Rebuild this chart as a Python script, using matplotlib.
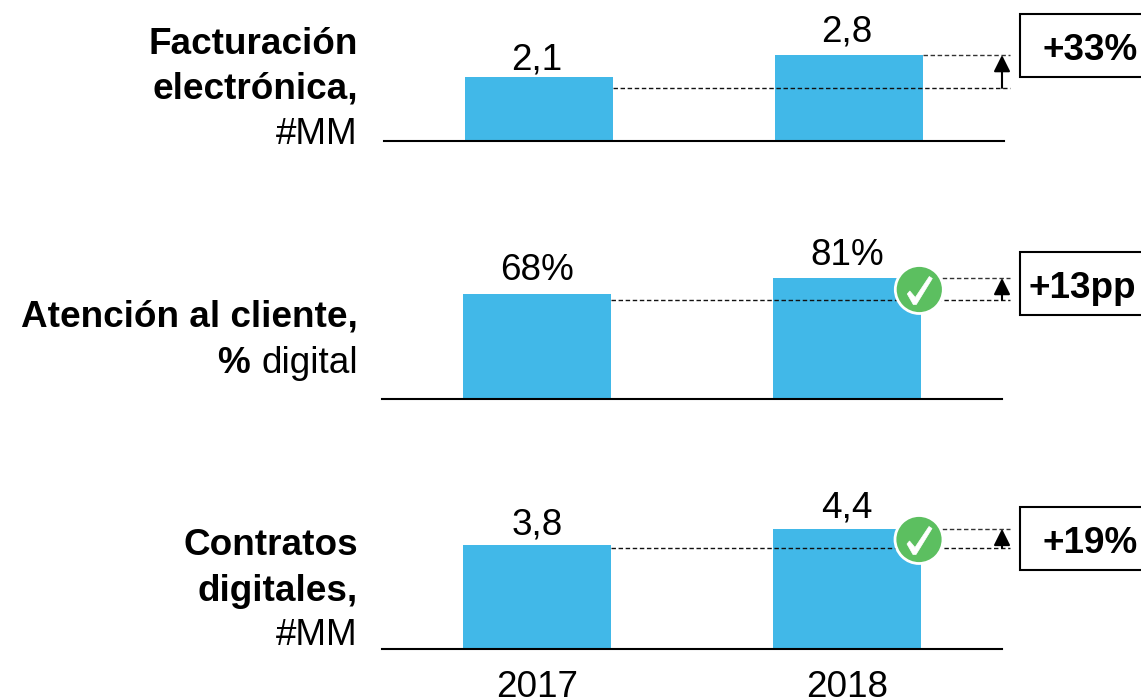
import matplotlib
matplotlib.use("Agg")
import matplotlib.pyplot as plt
from matplotlib.patches import Rectangle, Circle, Polygon

plt.rcParams['font.family'] = ['Liberation Sans', 'DejaVu Sans']

W, H = 1141, 700
FS = 26.6

years = ['2017', '2018']
fact_values = [2.1, 2.8]
aten_values = [70.3, 81]  # bar heights as drawn, the 2017 bar is taller than its 68% label
cont_values = [3.8, 4.4]
fact_labels = ['2,1', '2,8']
aten_labels = ['68%', '81%']
cont_labels = ['3,8', '4,4']
# level of the lower dashed guide, it does not sit on the 2017 bar
fact_guide = 1.73
aten_guide = 66.3
cont_guide = 3.7
changes = ['+33%', '+13pp', '+19%']

BLUE = '#41B8E8'
GREEN = '#5CBF60'

fig = plt.figure(figsize=(W / 100, H / 100), dpi=100)

# overlay in pixels for boxes, side labels and checks
over = fig.add_axes([0, 0, 1, 1], zorder=5)
over.set_xlim(0, W)
over.set_ylim(H, 0)
over.axis('off')


def panel(values, labels, guide, left, base, px_per_unit, label_off, dx=0):
    h = 130
    ax = fig.add_axes([left / W, 1 - base / H, 620 / W, h / H])
    ax.set_xlim(-0.5, 1.5)
    ax.set_ylim(0, h / px_per_unit)
    ax.patch.set_alpha(0)
    x = range(len(values))
    ax.bar(x, values, width=0.48, color=BLUE)
    for s in ['top', 'left', 'right']:
        ax.spines[s].set_visible(False)
    ax.spines['bottom'].set_linewidth(1.5)
    ax.spines['bottom'].set_color('black')
    ax.set_yticks([])
    ax.set_xticks([])
    for i, v in enumerate(values):
        ax.annotate(labels[i], (i, v), xytext=(dx, label_off[i]), textcoords='offset points',
                    ha='center', va='baseline', fontsize=FS, color='black')
    # dashed guides out to the right of the axis, pixel 1010 and arrow at pixel 1002
    x_end = (1010 - left) / 310 - 0.5
    x_arrow = (1002 - left) / 310 - 0.5
    ax.plot([0.24, x_end], [guide, guide], ls=(0, (3.2, 1.9)), lw=1.0, color='#111111', clip_on=False, zorder=3)
    ax.plot([1.24, x_end], [values[1], values[1]], ls=(0, (3.2, 1.9)), lw=1.0, color='#333333', clip_on=False, zorder=3)
    ax.annotate('', xy=(x_arrow, values[1]), xytext=(x_arrow, guide), annotation_clip=False,
                arrowprops=dict(arrowstyle='-|>,head_length=0.5,head_width=0.25', color='black',
                                lw=1.5, shrinkA=0, shrinkB=0, mutation_scale=20))
    return ax


ax1 = panel(fact_values, fact_labels, fact_guide, 384, 141, 30.7, [5.2, 9.5], dx=-1.5)
ax2 = panel(aten_values, aten_labels, aten_guide, 382, 399, 1.494, [10.2, 9.5])
ax3 = panel(cont_values, cont_labels, cont_guide, 382, 649, 27.3, [8, 8])

ax3.set_xticks([0, 1])
ax3.set_xticklabels(years, fontsize=FS, color='black')
ax3.tick_params(axis='x', length=0, pad=15)

# change boxes
for y, txt, xc in zip([14, 252, 507], changes, [1090, 1082, 1090]):
    over.add_patch(Rectangle((1019.5, y), 130, 63, fc='white', ec='black', lw=1.5))
    over.text(xc, y + 46, txt, ha='center', va='baseline', fontsize=FS, fontweight='bold', color='black')

# left labels
RX = 358
side = {'ha': 'right', 'va': 'baseline', 'fontsize': FS, 'color': 'black'}
over.text(RX, 54, 'Facturación', fontweight='bold', **side)
over.text(RX, 99, 'electrónica,', fontweight='bold', **side)
over.text(RX, 144, '#MM', **side)
over.text(RX, 327, 'Atención al cliente,', fontweight='bold', **side)
over.text(RX, 373, 'digital', **side)
over.text(250, 373, '%', fontweight='bold', **side)
over.text(RX, 555, 'Contratos', fontweight='bold', **side)
over.text(RX, 601, 'digitales,', fontweight='bold', **side)
over.text(RX, 645, '#MM', **side)

# check badges
for cx, cy in [(919.3, 289.5), (919, 539.5)]:
    over.add_patch(Circle((cx, cy), 24, fc=GREEN, ec='white', lw=2))
    over.add_patch(Polygon([(cx - 12, cy + 4.5), (cx - 9.5, cy + 1.5), (cx - 4, cy + 8), (cx + 10, cy - 13),
                            (cx + 13, cy - 11), (cx - 3, cy + 15), (cx - 6, cy + 15)], fc='white', ec='white', lw=0.5))

fig.savefig('out.png', dpi=100)
